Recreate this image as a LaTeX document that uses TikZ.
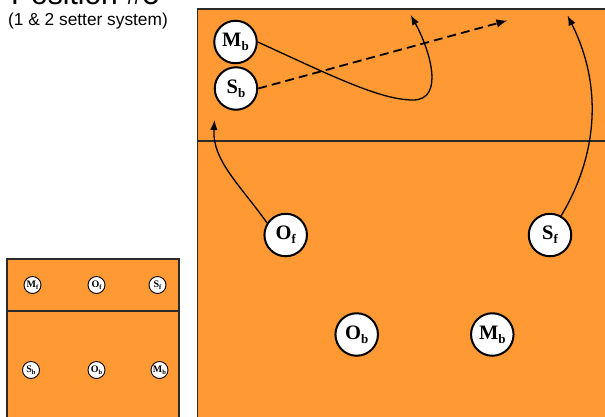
\documentclass[tikz,border=0pt]{standalone}
\usepackage{fontspec}
\setmainfont{Liberation Serif}
\newfontfamily\arialfont{Liberation Sans}
\usetikzlibrary{arrows.meta}
\definecolor{court}{HTML}{FF9933}
\definecolor{edge}{HTML}{2A2A2A}
\newcommand{\plab}[2]{\textbf{#1\raisebox{-0.2em}{\fontsize{13}{13}\selectfont #2}}}
\newcommand{\slab}[2]{\textbf{#1\raisebox{-0.2em}{\fontsize{6.5}{6.5}\selectfont #2}}}
\tikzset{
  courtbox/.style={fill=court, draw=edge, line width=1.5pt},
  netline/.style={draw=edge, line width=1.5pt},
  player/.style={circle, draw=black, fill=white, line width=2pt, minimum size=42.5pt, inner sep=0pt, font=\fontsize{20.5}{20.5}\selectfont},
  smallplayer/.style={circle, draw=black, fill=white, line width=0.9pt, minimum size=17pt, inner sep=0pt, font=\fontsize{10}{10}\selectfont},
  run/.style={line width=1.3pt, -{Latex[length=10pt,width=7.5pt]}},
  setrun/.style={line width=1.8pt, dash pattern=on 9pt off 5pt, -{Latex[length=11pt,width=8.5pt]}},
}
\begin{document}
\begin{tikzpicture}[x=1pt,y=-1pt]
\useasboundingbox (0,0) rectangle (605,416);
\clip (0,0) rectangle (605,416);
% titles
\node[anchor=base west, inner sep=0pt, font=\arialfont\fontsize{30}{30}\selectfont] (title) at (11,4) {Position \#5};
\node[anchor=west, inner sep=0pt, font=\arialfont\fontsize{17.3}{17.3}\selectfont] (subtitle) at (8,21) {(1 \& 2 setter system)};
% small court
\path[courtbox] (7,259) rectangle (179,430);
\draw[netline] (7,311) -- (179,311);
\node[smallplayer] (sMf) at (32.5,285) {\slab{M}{f}};
\node[smallplayer] (sOf) at (96.5,285) {\slab{O}{f}};
\node[smallplayer] (sSf) at (157.5,285) {\slab{S}{f}};
\node[smallplayer] (sSb) at (31,370) {\slab{S}{b}};
\node[smallplayer] (sOb) at (96.5,370) {\slab{O}{b}};
\node[smallplayer] (sMb) at (159.5,370) {\slab{M}{b}};
% big court
\path[courtbox] (197.5,9) rectangle (620,430);
\draw[netline] (197.5,141) -- (620,141);
\node[player] (Mb) at (235.5,42) {\plab{M}{b}};
\node[player] (Sb) at (236,88.5) {\plab{S}{b}};
\node[player] (Of) at (285.7,235) {\plab{O}{f}};
\node[player] (Sf) at (550,235) {\plab{S}{f}};
\node[player] (Ob) at (356.7,334.5) {\plab{O}{b}};
\node[player] (Mb2) at (492.3,334.5) {\plab{M}{b}};
% run targets
\coordinate (mbtip) at (410.7,15);
\coordinate (sbtip) at (507.5,20.5);
\coordinate (oftip) at (214.5,120);
\coordinate (sftip) at (567.5,15.5);
% runs
\draw[run] (Mb.east) .. controls (330,75) and (380,100) .. (413,100) .. controls (445,100) and (430,50) .. (mbtip);
\draw[setrun] (Sb.east) -- (sbtip);
\draw[run] (Of.147) .. controls (240,185) and (212,160) .. (oftip);
\draw[run] (Sf.60) .. controls (595,160) and (605,90) .. (sftip);
\end{tikzpicture}
\end{document}
